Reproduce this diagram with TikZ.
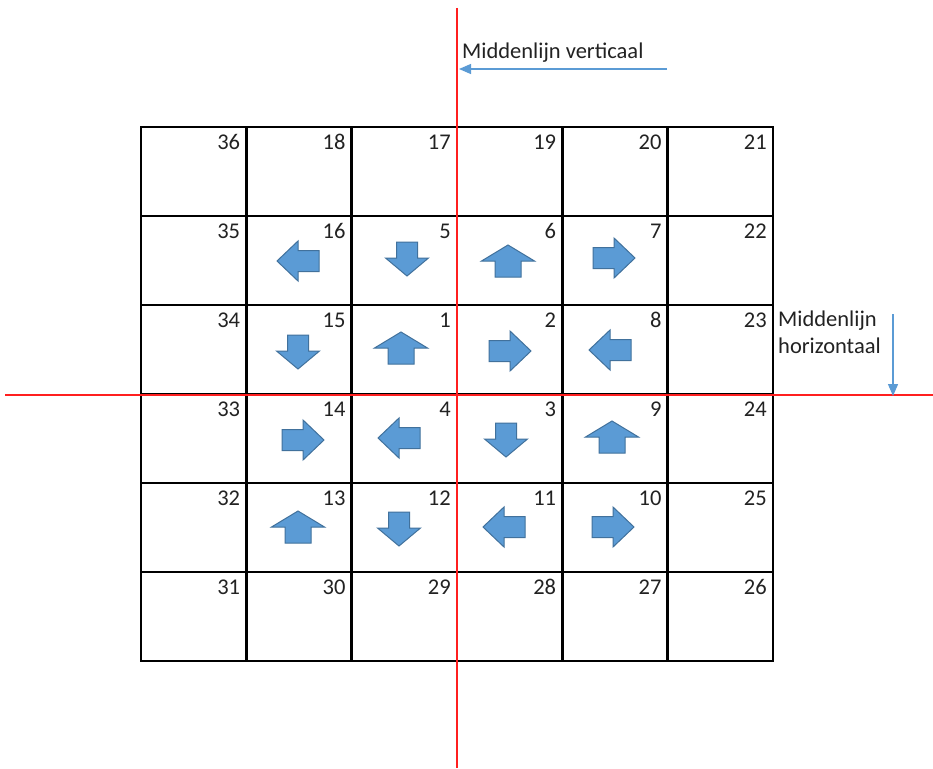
\documentclass[tikz,border=0pt]{standalone}
\usepackage{fontspec}
\setmainfont{Carlito}
\usetikzlibrary{arrows.meta}
\definecolor{cblue}{HTML}{5B9BD5}
\definecolor{cedge}{HTML}{41719C}
\definecolor{cred}{HTML}{FF1F1F}
\definecolor{ctext}{HTML}{222222}
\tikzset{
  every picture/.style={x=1pt, y=-1pt},
  pics/blockarrow/.style args={#1/#2/#3/#4}{code={
    \filldraw[fill=cblue, draw=cedge, line width=1pt, line join=miter]
      (-#1/2,-#3/2) -- (#1/2-#4,-#3/2) -- (#1/2-#4,-#2/2) -- (#1/2,0)
      -- (#1/2-#4,#2/2) -- (#1/2-#4,#3/2) -- (-#1/2,#3/2) -- cycle;
  }},
}

\begin{document}
\begin{tikzpicture}[
  cell/.style={draw=black, line width=2.6pt, minimum width=105.33pt, minimum height=89pt, inner sep=0pt, outer sep=0pt},
  num/.style={font=\fontsize{22.5}{27}\selectfont, text=ctext, inner sep=0pt, anchor=base east},
  lbl/.style={font=\fontsize{22.5}{27}\selectfont, text=ctext, inner sep=0pt},
  redline/.style={draw=cred, line width=2.6pt},
  pointer/.style={-{Triangle[length=12pt, width=10pt]}, draw=cblue, line width=1.3pt}]
  \fill[white] (0,0) rectangle (933,768);
  \useasboundingbox (0,0) rectangle (933,768);
  % numbered grid
  \foreach \row [count=\r from 0] in {{36,18,17,19,20,21},{35,16,5,6,7,22},{34,15,1,2,8,23},{33,14,4,3,9,24},{32,13,12,11,10,25},{31,30,29,28,27,26}}
    \foreach \num [count=\c from 0] in \row {
      \node[cell] (cell-\num) at ({193.67+105.33*\c},{171.5+89*\r}) {};
      \node[num] (n-\num) at ([xshift=-6pt, yshift=-22pt]cell-\num.north east) {\num};
    }
  % middle lines
  \coordinate (vtop) at (457,8);
  \coordinate (vbot) at (457,768);
  \coordinate (hleft) at (5,395);
  \coordinate (hright) at (933,395);
  \draw[redline] (vtop) -- (vbot);
  \draw[redline] (hleft) -- (hright);
  % block arrows
  \foreach \px/\py/\rot in {298/261/180, 614/258/0, 510/351/0, 610/350/180, 303/440/0, 399/438/180, 504/527/180, 613/527/0}
    \pic[rotate=\rot] at (\px,\py) {blockarrow=42/40/21/21};
  \foreach \px/\py in {407/259, 298/352, 506/440, 399/529}
    \pic[rotate=-90] at (\px,\py) {blockarrow=34/43/21/18};
  \foreach \px/\py in {508/261, 401/348, 612/437, 298/527}
    \pic[rotate=90] at (\px,\py) {blockarrow=32/53/26/16};
  % labels
  \node[lbl, anchor=base west] (vlab) at (462,59) {Middenlijn verticaal};
  \coordinate (vtail) at (667,69);
  \coordinate (vtip) at (459,69);
  \draw[pointer] (vtail) -- (vtip);
  \node[lbl, anchor=north west, align=left] (hlab) at (778,311) {Middenlijn\\horizontaal};
  \coordinate (htail) at (893,314);
  \coordinate (htip) at (893,396);
  \draw[pointer] (htail) -- (htip);
\end{tikzpicture}
\end{document}
